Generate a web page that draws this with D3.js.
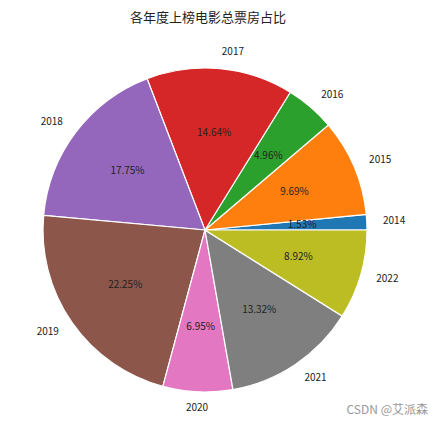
<!DOCTYPE html>
<html>
<head>
<meta charset="utf-8">
<script src="https://d3js.org/d3.v7.min.js"></script>
<style>
body { margin: 0; background: white; }
text { font-family: "Noto Sans CJK SC", "DejaVu Sans", sans-serif; fill: #222; }
</style>
</head>
<body>
<div id="chart"></div>
<script>
var years = ["2014", "2015", "2016", "2017", "2018", "2019", "2020", "2021", "2022"];
var shares = [1.53, 9.69, 4.96, 14.64, 17.75, 22.25, 6.95, 13.32, 8.92];
var colors = ["#1f77b4", "#ff7f0e", "#2ca02c", "#d62728", "#9467bd", "#8c564b", "#e377c2", "#7f7f7f", "#bcbd22"];

var W = 437, H = 428, cx = 205, cy = 230, R = 162;
var svg = d3.select("#chart").append("svg").attr("width", W).attr("height", H);

svg.append("text").attr("x", 208).attr("y", 22).attr("text-anchor", "middle")
    .style("font-size", "13px").text("各年度上榜电影总票房占比");

// matplotlib style: start at 3 o'clock, counter-clockwise
var pie = d3.pie().sort(null).startAngle(Math.PI / 2).endAngle(Math.PI / 2 - 2 * Math.PI);
var arcs = pie(shares);
var arc = d3.arc().innerRadius(0).outerRadius(R);
var g = svg.append("g").attr("transform", "translate(" + cx + "," + cy + ")");

g.selectAll("path").data(arcs).enter().append("path")
    .attr("d", arc)
    .attr("fill", function(d, i) { return colors[i]; })
    .attr("stroke", "white").attr("stroke-width", 1.2);

function pos(d, r) {
    var a = (d.startAngle + d.endAngle) / 2;
    return [r * Math.sin(a), -r * Math.cos(a)];
}

g.selectAll("text.pct").data(arcs).enter().append("text")
    .attr("class", "pct")
    .attr("x", function(d) { return pos(d, R * 0.6)[0]; })
    .attr("y", function(d) { return pos(d, R * 0.6)[1]; })
    .attr("text-anchor", "middle").attr("dominant-baseline", "middle")
    .style("font-size", "10px")
    .text(function(d) { return d.data.toFixed(2) + "%"; });

g.selectAll("text.lbl").data(arcs).enter().append("text")
    .attr("class", "lbl")
    .attr("x", function(d) { return pos(d, R * 1.1)[0]; })
    .attr("y", function(d) { return pos(d, R * 1.1)[1]; })
    .attr("text-anchor", function(d) {
        var x = pos(d, 1)[0];
        return Math.abs(x) < 0.05 ? "middle" : (x > 0 ? "start" : "end");
    })
    .attr("dominant-baseline", "middle")
    .style("font-size", "10px")
    .text(function(d, i) { return years[i]; });

svg.append("text").attr("x", 428).attr("y", 414).attr("text-anchor", "end")
    .style("font-size", "12px").style("fill", "#999").text("CSDN @艾派森");
</script>
</body>
</html>
